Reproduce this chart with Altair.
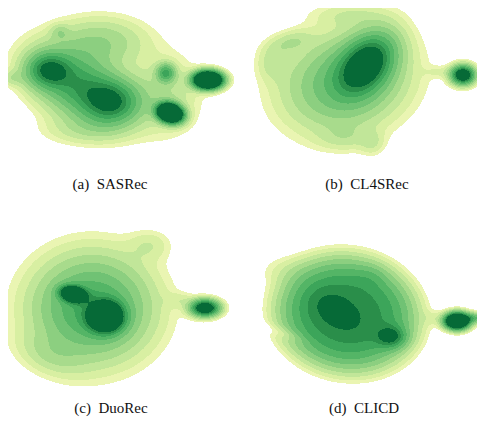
import numpy as np
import pandas as pd
import altair as alt

# Captions
captions = ["(a)\u2002SASRec", "(b)\u2002CL4SRec", "(c)\u2002DuoRec", "(d)\u2002CLICD"]
caption_x = [110, 367, 111, 364]
caption_y = [189, 189, 413, 413]

# density levels (contour thresholds) and YlGn fill colours
levels = [0.035, 0.06, 0.10, 0.155, 0.23, 0.325, 0.44, 0.57, 0.70, 0.83]
colors = ["#eaf5b2", "#d8efa2", "#c1e699", "#a8db8c", "#8ccf80",
          "#70c274", "#54b566", "#3ca55a", "#2a8e4a", "#066a37"]

# density components:
# (cx, cy, sx, sy, angle_deg, amp, flatness)
sasrec = [
    (80, 86, 32, 20, 27, 0.66, 1),
    (100, 42, 30, 16, 0, 0.22, 1),
    (48, 70, 14, 11, 0, 0.65, 1),
    (112, 102, 18, 14, 0, 0.65, 1),
    (12, 78, 8, 5, 0, 0.10, 1),
    (60, 32, 6, 5, 0, 0.12, 1),
    (166, 73, 6, 6, 0, 0.55, 1),
    (165, 95, 22, 25, 0, 0.15, 1),
    (208, 80, 8.75, 5.3, 0, 3.0, 1),
    (170, 113, 7.8, 5.6, 15, 3.0, 1),
    (85, 130, 28, 10, 0, 0.10, 1),
]
cl4srec = [
    (367, 63, 22, 15, -50, 0.92, 1),
    (345, 82, 38, 29, -15, 0.45, 1),
    (290, 42, 14, 7, -15, 0.12, 1),
    (272, 62, 10, 12, 0, 0.10, 1),
    (345, 138, 18, 8, 0, 0.08, 1),
    (372, 143, 8, 8, 0, 0.08, 1),
    (350, 15, 25, 8, 0, 0.08, 1),
    (440, 72, 10, 4, 0, 0.05, 1),
    (463, 75, 7.5, 6, 0, 1.3, 1),
]
duorec = [
    (92, 308, 36, 32, 0, 0.62, 1),
    (73, 294, 8.1, 4.9, 10, 1.5, 1),
    (106, 317, 11, 9.5, 0, 1.5, 1),
    (50, 355, 22, 12, 20, 0.10, 1),
    (150, 245, 14, 10, 0, 0.08, 1),
    (180, 300, 10, 5, 0, 0.06, 1),
    (205, 308, 9, 5.3, 0, 1.3, 1),
]
clicd = [
    (347, 314, 54, 44, 10, 0.75, 2),
    (336, 311, 20, 12, 30, 0.20, 1),
    (392, 337, 9.6, 7.2, 0, 0.50, 1),
    (285, 270, 18, 10, 0, 0.05, 1),
    (372, 275, 10, 8, 0, 0.06, 1),
    (290, 335, 14, 4, 20, -0.10, 1),
    (435, 318, 8, 5, 0, 0.05, 1),
    (457, 321, 7.4, 5, 0, 2.5, 1),
    (475, 318, 8, 3.5, 0, 0.40, 1),
]
panel_components = [sasrec, cl4srec, duorec, clicd]
panel_bounds = [(0, 245, 0, 210), (245, 485, 0, 210), (0, 245, 210, 429), (245, 485, 210, 429)]

W, H = 469, 409
X0, Y0 = 8, 8


def density(comps, x0, x1, y0, y1):
    xs = np.arange(x0, x1) + 0.5
    ys = np.arange(y0, y1) + 0.5
    X, Y = np.meshgrid(xs, ys)
    D = np.zeros_like(X)
    for cx, cy, sx, sy, ang, amp, flat in comps:
        t = np.deg2rad(ang)
        dx, dy = X - cx, Y - cy
        u = dx * np.cos(t) + dy * np.sin(t)
        v = -dx * np.sin(t) + dy * np.cos(t)
        q = (u / sx) ** 2 + (v / sy) ** 2
        D += amp * np.exp(-0.5 * q ** flat)
    return D


rows = []
for comps, (x0, x1, y0, y1) in zip(panel_components, panel_bounds):
    D = density(comps, x0, x1, y0, y1)
    band = np.searchsorted(levels, D, side="right") - 1
    for j in range(band.shape[0]):
        r = band[j]
        start = 0
        n = len(r)
        for i in range(1, n + 1):
            if i == n or r[i] != r[start]:
                if r[start] >= 0:
                    rows.append({"x": x0 + start, "x2": x0 + i, "y": y0 + j, "y2": y0 + j + 1,
                                 "band": int(r[start])})
                start = i

cells = pd.DataFrame(rows)
labels = pd.DataFrame({"x": caption_x, "y": caption_y, "text": captions})

xs = alt.Scale(domain=[X0, X0 + W], nice=False, zero=False)
ys = alt.Scale(domain=[Y0 + H, Y0], nice=False, zero=False)

fills = alt.Chart(cells).mark_rect(strokeWidth=0).encode(
    x=alt.X("x:Q", scale=xs, axis=None),
    x2="x2:Q",
    y=alt.Y("y:Q", scale=ys, axis=None),
    y2="y2:Q",
    color=alt.Color("band:O", scale=alt.Scale(domain=list(range(len(colors))), range=colors), legend=None),
)

text = alt.Chart(labels).mark_text(font="Liberation Serif", fontSize=15, baseline="alphabetic",
                                   align="center", color="#111111").encode(
    x=alt.X("x:Q", scale=xs, axis=None),
    y=alt.Y("y:Q", scale=ys, axis=None),
    text="text:N",
)

chart = alt.layer(fills, text).properties(
    width=W, height=H, padding=0, autosize=alt.AutoSizeParams(type="none")
).configure_view(stroke=None)

chart.save("out.html", embed_options={"renderer": "svg", "actions": False})
